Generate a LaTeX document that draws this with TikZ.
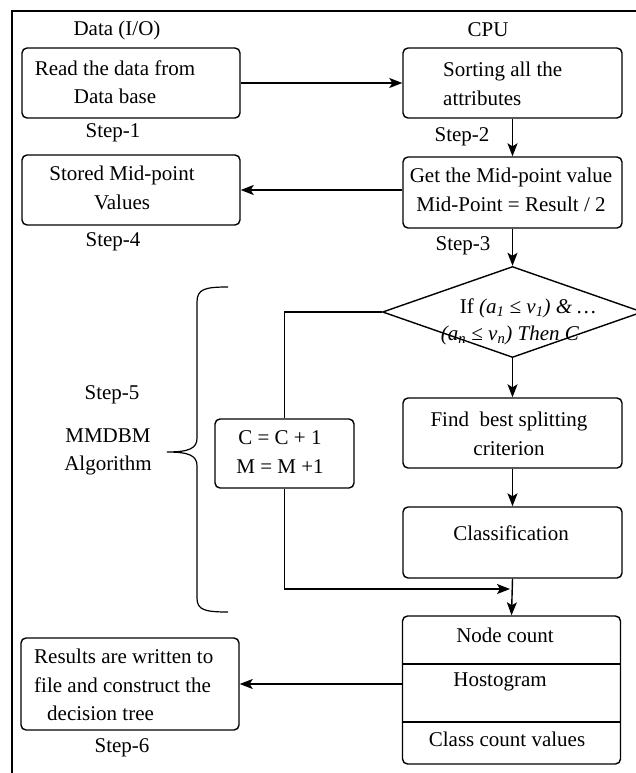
\documentclass[tikz,border=0pt]{standalone}
\usepackage{fontspec}
\setmainfont{Liberation Serif}
\usetikzlibrary{shapes.geometric, arrows.meta}
\begin{document}
\begin{tikzpicture}[x=1pt,y=-1pt,
  box/.style={draw, line width=1.4pt, rounded corners=5pt, inner sep=0pt},
  txt/.style={font=\fontsize{21}{28.5}\selectfont, inner sep=0pt, align=center},
  ln/.style={line width=1.4pt},
  arr/.style={line width=1.4pt, -{Stealth[length=13pt,width=10pt,inset=3pt]}},
]
\useasboundingbox (0,0) rectangle (636,773);
% frame
\draw[ln] (12,773) -- (12,11) -- (636,11);

% headers
\node[txt] (dataio) at (117,30) {Data (I/O)};
\node[txt] (cpu) at (488,30) {CPU};

% boxes
\node[box, minimum width=218pt, minimum height=70pt] (b1) at (131,83) {};
\node[box, minimum width=219pt, minimum height=70pt] (b2) at (512.5,83) {};
\node[box, minimum width=219pt, minimum height=71pt] (b3) at (512.5,192.5) {};
\node[box, minimum width=218pt, minimum height=70pt] (b4) at (131,190) {};
\node[draw, diamond, line width=1.4pt, minimum width=260pt, minimum height=91pt, inner sep=0pt] (dia) at (512.5,312) {};
\node[box, minimum width=219pt, minimum height=70pt] (b5) at (512.5,433) {};
\node[box, minimum width=219pt, minimum height=71pt] (b6) at (512.5,542.5) {};
\node[box, minimum width=139pt, minimum height=69pt] (cb) at (284.5,453.5) {};
\node[box, minimum width=218pt, minimum height=148pt] (b7) at (511.5,690) {};
\node[box, minimum width=218pt, minimum height=92pt] (b8) at (130,684) {};

% dividers in b7
\coordinate (d1) at (402.5,664);
\coordinate (d2) at (402.5,722);
\draw[ln] (d1) -- (d1 -| b7.east);
\draw[ln] (d2) -- (d2 -| b7.east);

% texts
\node[txt] (t1) at (115,82) {Read the data from\\Data base};
\node[txt, align=left, anchor=west] (t2) at (443,84) {Sorting all the\\attributes};
\node[txt] (t3) at (511,190) {Get the Mid-point value\\Mid-Point = Result / 2};
\node[txt] (t4) at (122,188) {Stored Mid-point\\Values};
\node[txt] (dt1) at (528,308) {If \textit{(a\textsubscript{1} ≤ v\textsubscript{1}) \& …}};
\node[txt] (dt2) at (510,335) {\textit{(a\textsubscript{n} ≤ v\textsubscript{n}) Then C}};
\node[txt] (t5) at (509,434) {Find \ best splitting\\criterion};
\node[txt] (t6) at (511,533) {Classification};
\node[txt] (tc) at (280,452) {C = C + 1\\M = M +1};
\node[txt] (t7a) at (505,635) {Node count};
\node[txt] (t7b) at (500,682) {Hostogram};
\node[txt] (t7c) at (507,739) {Class count values};
\node[txt, align=left, anchor=west] (t8) at (34,685) {Results are written to\\file and construct the\\\hspace*{13pt}decision tree};

% step labels
\node[txt] (s1) at (113,133) {Step-1};
\node[txt] (s2) at (462,137) {Step-2};
\node[txt] (s3) at (463,246) {Step-3};
\node[txt] (s4) at (113,242) {Step-4};
\node[txt] (s5) at (112,395) {Step-5};
\node[txt] (s5b) at (108,452) {MMDBM\\Algorithm};
\node[txt] (s6) at (122,748) {Step-6};

% brace
\draw[line width=1.2pt] (228,287) .. controls (205,287) and (197,289) .. (197,302) -- (197,438) .. controls (197,448) and (190,452) .. (167,452) .. controls (190,452) and (197,456) .. (197,466) -- (197,598) .. controls (197,610) and (205,612) .. (228,612);

% connectors
\draw[arr] (b1.east) -- (b2.west);
\draw[arr] (b2.south) -- (b3.north);
\draw[arr] (b3.west |- b4.east) -- (b4.east);
\draw[arr] (b3.south) -- (dia.north);
\draw[arr] (dia.south) -- (b5.north);
\draw[arr] (b5.south) -- (b6.north);
\draw[arr] (b6.south) -- (b7.north);
\draw[ln] (dia.west) -| (cb.north);
\coordinate (j) at (510,589);
\draw[arr] (cb.south) |- (j);
\draw[arr] (b7.west |- b8.east) -- (b8.east);
\end{tikzpicture}
\end{document}
